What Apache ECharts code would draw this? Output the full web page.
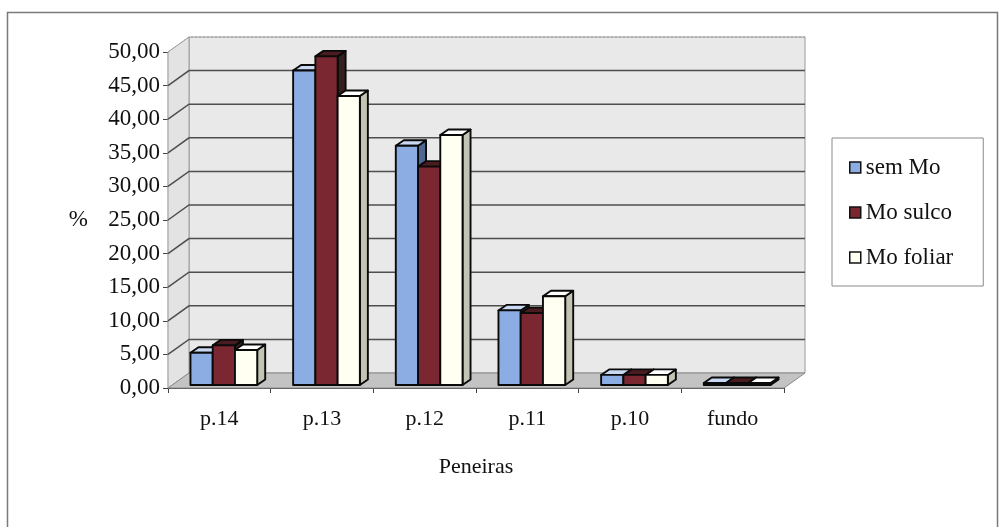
<!DOCTYPE html>
<html>
<head>
<meta charset="utf-8">
<script src="https://cdn.jsdelivr.net/npm/echarts@6/dist/echarts.min.js"></script>
<style>
  html, body { margin: 0; padding: 0; background: #fff; }
  #chart { width: 1001px; height: 527px; }
</style>
</head>
<body>
<div id="chart"></div>
<script>
// Sieve classes and share of seeds retained (%)
const categories = ['p.14', 'p.13', 'p.12', 'p.11', 'p.10', 'fundo'];
const semMo    = [4.8, 46.8, 35.6, 11.1, 1.5, 0.3];
const moSulco  = [5.9, 48.9, 32.5, 10.7, 1.5, 0.3];
const moFoliar = [5.2, 43.0, 37.2, 13.2, 1.5, 0.3];
const seriesNames = ['sem Mo', 'Mo sulco', 'Mo foliar'];
const yTicks = [0, 5, 10, 15, 20, 25, 30, 35, 40, 45, 50];

const FONT = '"Liberation Serif", "Times New Roman", serif';
const Y_MIN = 0, Y_MAX = 50, Y_STEP = 5;

// oblique projection used for the pseudo-3D look
const WALL = { dx: 21, dy: -15 };      // depth of floor / side wall
const BAR_FRONT = { dx: 4.5, dy: -3 }; // bar front plane behind the axis plane
const BAR_DEPTH = { dx: 8, dy: -5.5 }; // bar thickness
const GROUP_FRACTION = 0.65;           // share of a category used by the 3 bars

const faceColors = [
  { front: '#8cade4', top: '#c9d9f3', side: '#4f6690' },
  { front: '#7b2731', top: '#4a1c20', side: '#33201f' },
  { front: '#fffff2', top: '#ffffff', side: '#c4c4b4' }
];
const seriesValues = [semMo, moSulco, moFoliar];

function renderWalls(params, api) {
  const cs = params.coordSys;
  const x0 = cs.x, x1 = cs.x + cs.width;
  const yT = api.coord([0, Y_MAX])[1];
  const yB = api.coord([0, Y_MIN])[1];
  const d = WALL;
  return {
    type: 'group',
    children: [
      { // back wall
        type: 'polygon',
        shape: { points: [[x0 + d.dx, yT + d.dy], [x1 + d.dx, yT + d.dy], [x1 + d.dx, yB + d.dy], [x0 + d.dx, yB + d.dy]] },
        style: { fill: '#e9e9e9', stroke: '#9a9a9a', lineWidth: 1 }
      },
      { // left side wall
        type: 'polygon',
        shape: { points: [[x0, yT], [x0 + d.dx, yT + d.dy], [x0 + d.dx, yB + d.dy], [x0, yB]] },
        style: { fill: '#e3e3e3', stroke: '#9a9a9a', lineWidth: 1 }
      },
      { // floor
        type: 'polygon',
        shape: { points: [[x0, yB], [x1, yB], [x1 + d.dx, yB + d.dy], [x0 + d.dx, yB + d.dy]] },
        style: { fill: '#c3c3c3', stroke: '#8a8a8a', lineWidth: 1 }
      }
    ]
  };
}

function renderGridLine(params, api) {
  const cs = params.coordSys;
  const v = api.value(1);
  if (v === Y_MIN) return null;
  const x0 = cs.x, x1 = cs.x + cs.width;
  const y = api.coord([0, v])[1];
  const d = WALL;
  const isTop = v === Y_MAX;
  return {
    type: 'polyline',
    shape: { points: [[x0, y], [x0 + d.dx, y + d.dy], [x1 + d.dx, y + d.dy]] },
    style: {
      fill: null,
      stroke: isTop ? '#9a9a9a' : '#4e4e4e',
      lineWidth: isTop ? 1 : 1.5,
      lineDash: isTop ? [2, 2] : null
    }
  };
}

function makeBarRenderer(k) {
  return function (params, api) {
    const idx = api.value(0);
    const val = api.value(1);
    const base = api.coord([idx, 0]);
    const top = api.coord([idx, val]);
    const band = api.size([1, 0])[0];
    const groupW = band * GROUP_FRACTION;
    const barW = groupW / 3;
    const xl = base[0] - groupW / 2 + k * barW + BAR_FRONT.dx;
    const xr = xl + barW;
    const yb = base[1] + BAR_FRONT.dy;
    const yt = top[1] + BAR_FRONT.dy;
    const dx = BAR_DEPTH.dx, dy = BAR_DEPTH.dy;
    const c = faceColors[k];
    const line = { stroke: '#0a0a0a', lineWidth: 1.9, lineJoin: 'round' };
    return {
      type: 'group',
      children: [
        { type: 'polygon', shape: { points: [[xr, yt], [xr + dx, yt + dy], [xr + dx, yb + dy], [xr, yb]] },
          style: Object.assign({ fill: c.side }, line) },
        { type: 'polygon', shape: { points: [[xl, yt], [xr, yt], [xr + dx, yt + dy], [xl + dx, yt + dy]] },
          style: Object.assign({ fill: c.top }, line) },
        { type: 'rect', shape: { x: xl, y: yt, width: barW, height: yb - yt },
          style: Object.assign({ fill: c.front }, line) }
      ]
    };
  };
}

const chart = echarts.init(document.getElementById('chart'), null, { renderer: 'canvas' });

const barSeries = seriesNames.map((name, k) => ({
  name: name,
  type: 'custom',
  renderItem: makeBarRenderer(k),
  data: seriesValues[k].map((v, i) => [i, v]),
  encode: { x: 0, y: 1 },
  itemStyle: { color: faceColors[k].front, borderColor: '#111', borderWidth: 1 },
  clip: false,
  z: 5
}));

chart.setOption({
  animation: false,
  backgroundColor: '#ffffff',
  textStyle: { fontFamily: FONT, color: '#111' },
  grid: { left: 168, right: 217, top: 52, bottom: 139, containLabel: false },
  xAxis: {
    type: 'category',
    data: categories,
    name: 'Peneiras',
    nameLocation: 'middle',
    nameGap: 68,
    nameTextStyle: { fontFamily: FONT, fontSize: 22, color: '#111' },
    axisLine: { show: true, lineStyle: { color: '#444', width: 1.2 } },
    axisTick: { show: true, length: 5, lineStyle: { color: '#444' } },
    axisLabel: { fontFamily: FONT, fontSize: 22, color: '#111', margin: 20 },
    splitLine: { show: false }
  },
  yAxis: {
    type: 'value',
    min: Y_MIN,
    max: Y_MAX,
    interval: Y_STEP,
    name: '%',
    nameLocation: 'middle',
    nameRotate: 0,
    nameGap: 80,
    nameTextStyle: { fontFamily: FONT, fontSize: 23, color: '#111' },
    axisLine: { show: true, lineStyle: { color: '#444', width: 1.2 } },
    axisTick: { show: true, length: 5, lineStyle: { color: '#444' } },
    axisLabel: {
      fontFamily: FONT, fontSize: 23, color: '#111', margin: 8,
      formatter: v => v.toFixed(2).replace('.', ',')
    },
    splitLine: { show: false }
  },
  legend: {
    orient: 'vertical',
    left: 832,
    top: 138,
    data: seriesNames.map(n => ({ name: n, itemStyle: { borderColor: '#111', borderWidth: 1.5 } })),
    icon: 'rect',
    itemWidth: 11,
    itemHeight: 11,
    itemGap: 22,
    padding: [18, 30, 17, 17],
    backgroundColor: '#ffffff',
    borderColor: '#8a8a8a',
    borderWidth: 1,
    textStyle: { fontFamily: FONT, fontSize: 23, color: '#111' }
  },
  graphic: [{
    type: 'rect',
    left: 5, top: 10,
    shape: { width: 990, height: 540 },
    style: { fill: null, stroke: '#7a7a7a', lineWidth: 1.5 },
    silent: true,
    z: -10
  }],
  series: [
    {
      name: 'walls',
      type: 'custom',
      renderItem: renderWalls,
      data: [[0, 0]],
      encode: { x: 0, y: 1 },
      silent: true,
      clip: false,
      z: 1
    },
    {
      name: 'gridlines',
      type: 'custom',
      renderItem: renderGridLine,
      data: yTicks.map(v => [0, v]),
      encode: { x: 0, y: 1 },
      silent: true,
      clip: false,
      z: 2
    }
  ].concat(barSeries)
});
</script>
</body>
</html>
